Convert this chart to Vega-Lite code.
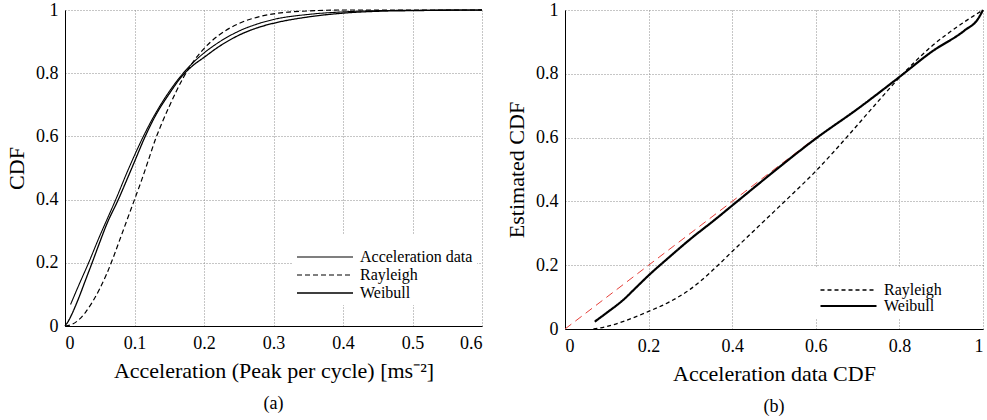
{
  "$schema": "https://vega.github.io/schema/vega-lite/v6.json",
  "padding": {"left": 5, "top": 1, "right": 0, "bottom": 0},
  "spacing": 20,
  "config": {
    "font": "Liberation Serif",
    "view": {"stroke": null},
    "style": {
      "guide-label": {"font": "Liberation Serif", "fill": "#000000"},
      "guide-title": {"font": "Liberation Serif", "fill": "#000000"},
      "group-title": {"font": "Liberation Serif", "fill": "#000000"}
    },
    "axis": {
      "grid": true, "gridColor": "#8c8c8c", "gridDash": [1, 2], "gridWidth": 1,
      "domainColor": "#000000", "domainWidth": 1, "ticks": false,
      "labelFont": "Liberation Serif", "labelFontSize": 18, "labelColor": "#000000",
      "titleFont": "Liberation Serif", "titleFontSize": 22, "titleFontWeight": "normal", "titleColor": "#000000",
      "labelPadding": 7
    },
    "axisX": {"labelPadding": 8, "titlePadding": 8},
    "axisY": {"titlePadding": 7},
    "legend": {"labelFont": "Liberation Serif"},
    "title": {"font": "Liberation Serif", "fontSize": 18, "fontWeight": "normal", "color": "#000000", "orient": "bottom", "frame": "group", "anchor": "middle", "offset": 14}
  },
  "datasets": {
    "left": [
      {"x": 0.008, "F": 0.068, "s": "Acceleration data"},
      {"x": 0.02, "F": 0.13, "s": "Acceleration data"},
      {"x": 0.034, "F": 0.2, "s": "Acceleration data"},
      {"x": 0.05, "F": 0.285, "s": "Acceleration data"},
      {"x": 0.06, "F": 0.335, "s": "Acceleration data"},
      {"x": 0.073, "F": 0.4, "s": "Acceleration data"},
      {"x": 0.09, "F": 0.49, "s": "Acceleration data"},
      {"x": 0.1, "F": 0.54, "s": "Acceleration data"},
      {"x": 0.115, "F": 0.61, "s": "Acceleration data"},
      {"x": 0.13, "F": 0.672, "s": "Acceleration data"},
      {"x": 0.15, "F": 0.742, "s": "Acceleration data"},
      {"x": 0.17, "F": 0.8, "s": "Acceleration data"},
      {"x": 0.185, "F": 0.835, "s": "Acceleration data"},
      {"x": 0.2, "F": 0.864, "s": "Acceleration data"},
      {"x": 0.22, "F": 0.896, "s": "Acceleration data"},
      {"x": 0.25, "F": 0.933, "s": "Acceleration data"},
      {"x": 0.28, "F": 0.958, "s": "Acceleration data"},
      {"x": 0.3, "F": 0.97, "s": "Acceleration data"},
      {"x": 0.35, "F": 0.986, "s": "Acceleration data"},
      {"x": 0.4, "F": 0.994, "s": "Acceleration data"},
      {"x": 0.45, "F": 0.998, "s": "Acceleration data"},
      {"x": 0.5, "F": 0.999, "s": "Acceleration data"},
      {"x": 0.6, "F": 1.0, "s": "Acceleration data"},
      {"x": 0.0, "F": 0.0, "s": "Rayleigh"},
      {"x": 0.01, "F": 0.005, "s": "Rayleigh"},
      {"x": 0.02, "F": 0.02, "s": "Rayleigh"},
      {"x": 0.03, "F": 0.045, "s": "Rayleigh"},
      {"x": 0.04, "F": 0.078, "s": "Rayleigh"},
      {"x": 0.05, "F": 0.118, "s": "Rayleigh"},
      {"x": 0.06, "F": 0.165, "s": "Rayleigh"},
      {"x": 0.07, "F": 0.22, "s": "Rayleigh"},
      {"x": 0.08, "F": 0.28, "s": "Rayleigh"},
      {"x": 0.09, "F": 0.34, "s": "Rayleigh"},
      {"x": 0.1, "F": 0.4, "s": "Rayleigh"},
      {"x": 0.11, "F": 0.46, "s": "Rayleigh"},
      {"x": 0.12, "F": 0.525, "s": "Rayleigh"},
      {"x": 0.13, "F": 0.59, "s": "Rayleigh"},
      {"x": 0.14, "F": 0.645, "s": "Rayleigh"},
      {"x": 0.15, "F": 0.695, "s": "Rayleigh"},
      {"x": 0.16, "F": 0.742, "s": "Rayleigh"},
      {"x": 0.17, "F": 0.785, "s": "Rayleigh"},
      {"x": 0.18, "F": 0.822, "s": "Rayleigh"},
      {"x": 0.2, "F": 0.878, "s": "Rayleigh"},
      {"x": 0.22, "F": 0.918, "s": "Rayleigh"},
      {"x": 0.25, "F": 0.957, "s": "Rayleigh"},
      {"x": 0.28, "F": 0.979, "s": "Rayleigh"},
      {"x": 0.3, "F": 0.988, "s": "Rayleigh"},
      {"x": 0.35, "F": 0.997, "s": "Rayleigh"},
      {"x": 0.4, "F": 1.0, "s": "Rayleigh"},
      {"x": 0.5, "F": 1.0, "s": "Rayleigh"},
      {"x": 0.6, "F": 1.0, "s": "Rayleigh"},
      {"x": 0.0, "F": 0.0, "s": "Weibull"},
      {"x": 0.005, "F": 0.016, "s": "Weibull"},
      {"x": 0.01, "F": 0.038, "s": "Weibull"},
      {"x": 0.02, "F": 0.09, "s": "Weibull"},
      {"x": 0.03, "F": 0.148, "s": "Weibull"},
      {"x": 0.039, "F": 0.2, "s": "Weibull"},
      {"x": 0.05, "F": 0.265, "s": "Weibull"},
      {"x": 0.06, "F": 0.322, "s": "Weibull"},
      {"x": 0.0767, "F": 0.4, "s": "Weibull"},
      {"x": 0.09, "F": 0.468, "s": "Weibull"},
      {"x": 0.1, "F": 0.52, "s": "Weibull"},
      {"x": 0.115, "F": 0.598, "s": "Weibull"},
      {"x": 0.13, "F": 0.665, "s": "Weibull"},
      {"x": 0.15, "F": 0.735, "s": "Weibull"},
      {"x": 0.168, "F": 0.79, "s": "Weibull"},
      {"x": 0.185, "F": 0.826, "s": "Weibull"},
      {"x": 0.2, "F": 0.85, "s": "Weibull"},
      {"x": 0.22, "F": 0.882, "s": "Weibull"},
      {"x": 0.25, "F": 0.92, "s": "Weibull"},
      {"x": 0.28, "F": 0.946, "s": "Weibull"},
      {"x": 0.3, "F": 0.958, "s": "Weibull"},
      {"x": 0.35, "F": 0.978, "s": "Weibull"},
      {"x": 0.4, "F": 0.99, "s": "Weibull"},
      {"x": 0.45, "F": 0.996, "s": "Weibull"},
      {"x": 0.5, "F": 0.998, "s": "Weibull"},
      {"x": 0.6, "F": 1.0, "s": "Weibull"}
    ],
    "right": [
      {"x": 0.068, "y": 0.0, "s": "Rayleigh"},
      {"x": 0.1, "y": 0.008, "s": "Rayleigh"},
      {"x": 0.14, "y": 0.024, "s": "Rayleigh"},
      {"x": 0.2, "y": 0.055, "s": "Rayleigh"},
      {"x": 0.25, "y": 0.085, "s": "Rayleigh"},
      {"x": 0.3, "y": 0.125, "s": "Rayleigh"},
      {"x": 0.35, "y": 0.18, "s": "Rayleigh"},
      {"x": 0.4, "y": 0.243, "s": "Rayleigh"},
      {"x": 0.46, "y": 0.318, "s": "Rayleigh"},
      {"x": 0.5, "y": 0.368, "s": "Rayleigh"},
      {"x": 0.532, "y": 0.408, "s": "Rayleigh"},
      {"x": 0.6, "y": 0.495, "s": "Rayleigh"},
      {"x": 0.68, "y": 0.61, "s": "Rayleigh"},
      {"x": 0.74, "y": 0.7, "s": "Rayleigh"},
      {"x": 0.8, "y": 0.788, "s": "Rayleigh"},
      {"x": 0.876, "y": 0.885, "s": "Rayleigh"},
      {"x": 0.956, "y": 0.963, "s": "Rayleigh"},
      {"x": 1.0, "y": 1.0, "s": "Rayleigh"},
      {"x": 0.071, "y": 0.023, "s": "Weibull"},
      {"x": 0.1, "y": 0.051, "s": "Weibull"},
      {"x": 0.14, "y": 0.092, "s": "Weibull"},
      {"x": 0.17, "y": 0.13, "s": "Weibull"},
      {"x": 0.2, "y": 0.168, "s": "Weibull"},
      {"x": 0.25, "y": 0.226, "s": "Weibull"},
      {"x": 0.3, "y": 0.282, "s": "Weibull"},
      {"x": 0.357, "y": 0.341, "s": "Weibull"},
      {"x": 0.412, "y": 0.4, "s": "Weibull"},
      {"x": 0.5, "y": 0.494, "s": "Weibull"},
      {"x": 0.6, "y": 0.597, "s": "Weibull"},
      {"x": 0.7, "y": 0.69, "s": "Weibull"},
      {"x": 0.8, "y": 0.79, "s": "Weibull"},
      {"x": 0.876, "y": 0.868, "s": "Weibull"},
      {"x": 0.956, "y": 0.936, "s": "Weibull"},
      {"x": 0.988, "y": 0.972, "s": "Weibull"},
      {"x": 1.0, "y": 1.0, "s": "Weibull"}
    ],
    "ref": [
      {"x": 0.0, "y": 0.0},
      {"x": 0.6, "y": 0.6}
    ]
  },
  "hconcat": [
    {
      "width": 417,
      "height": 316,
      "title": {"text": "(a)"},
      "data": {"name": "left"},
      "mark": {"type": "line", "color": "#000000", "interpolate": "monotone"},
      "encoding": {
        "x": {"field": "x", "type": "quantitative", "title": "Acceleration (Peak per cycle) [ms⁻²]",
              "scale": {"domain": [0, 0.6], "nice": false},
              "axis": {"values": [0, 0.1, 0.2, 0.3, 0.4, 0.5, 0.6], "format": "~g", "labelFont": "Liberation Serif", "titleFont": "Liberation Serif"}},
        "y": {"field": "F", "type": "quantitative", "title": "CDF",
              "scale": {"domain": [0, 1], "nice": false},
              "axis": {"values": [0, 0.2, 0.4, 0.6, 0.8, 1], "format": "~g", "labelFont": "Liberation Serif", "titleFont": "Liberation Serif"}},
        "strokeDash": {"field": "s", "type": "nominal",
              "scale": {"domain": ["Acceleration data", "Rayleigh", "Weibull"], "range": [[1, 0], [5, 3], [1, 0]]},
              "legend": {"orient": "none", "legendX": 227, "legendY": 224, "title": " ", "titleFontSize": 10, "titlePadding": 1,
                         "fillColor": "#ffffff", "padding": 4, "symbolType": "stroke", "symbolSize": 3136, "symbolStrokeColor": "#000000",
                         "clipHeight": 16, "rowPadding": 2, "labelOffset": 6, "labelFont": "Liberation Serif", "labelFontSize": 16, "labelColor": "#000000", "labelLimit": 300}},
        "strokeWidth": {"field": "s", "type": "nominal",
              "scale": {"domain": ["Acceleration data", "Rayleigh", "Weibull"], "range": [1.1, 1.3, 2.5]},
              "legend": {"orient": "none", "legendX": 227, "legendY": 224, "title": " ", "titleFontSize": 10, "titlePadding": 1,
                         "fillColor": "#ffffff", "padding": 4, "symbolType": "stroke", "symbolSize": 3136, "symbolStrokeColor": "#000000",
                         "clipHeight": 16, "rowPadding": 2, "labelOffset": 6, "labelFont": "Liberation Serif", "labelFontSize": 16, "labelColor": "#000000", "labelLimit": 300}}
      }
    },
    {
      "width": 418,
      "height": 319,
      "title": {"text": "(b)"},
      "layer": [
        {
          "data": {"name": "ref"},
          "mark": {"type": "line", "color": "#e5403a", "strokeDash": [8, 5], "strokeWidth": 1},
          "encoding": {
            "x": {"field": "x", "type": "quantitative"},
            "y": {"field": "y", "type": "quantitative"}
          }
        },
        {
          "data": {"name": "right"},
          "mark": {"type": "line", "color": "#000000", "interpolate": "monotone"},
          "encoding": {
            "x": {"field": "x", "type": "quantitative", "title": "Acceleration data CDF",
                  "scale": {"domain": [0, 1], "nice": false},
                  "axis": {"values": [0, 0.2, 0.4, 0.6, 0.8, 1], "format": "~g", "labelFont": "Liberation Serif", "titleFont": "Liberation Serif"}},
            "y": {"field": "y", "type": "quantitative", "title": "Estimated CDF",
                  "scale": {"domain": [0, 1], "nice": false},
                  "axis": {"values": [0, 0.2, 0.4, 0.6, 0.8, 1], "format": "~g", "labelFont": "Liberation Serif", "titleFont": "Liberation Serif"}},
            "strokeDash": {"field": "s", "type": "nominal",
                  "scale": {"domain": ["Rayleigh", "Weibull"], "range": [[4, 3], [1, 0]]},
                  "legend": {"orient": "none", "legendX": 250, "legendY": 257, "title": " ", "titleFontSize": 10, "titlePadding": 1,
                             "fillColor": "#ffffff", "padding": 4, "symbolType": "stroke", "symbolSize": 3136, "symbolStrokeColor": "#000000",
                             "clipHeight": 16, "rowPadding": 0, "labelOffset": 6, "labelFont": "Liberation Serif", "labelFontSize": 16, "labelColor": "#000000", "labelLimit": 300}},
            "strokeWidth": {"field": "s", "type": "nominal",
                  "scale": {"domain": ["Rayleigh", "Weibull"], "range": [1.3, 2.2]},
                  "legend": {"orient": "none", "legendX": 250, "legendY": 257, "title": " ", "titleFontSize": 10, "titlePadding": 1,
                             "fillColor": "#ffffff", "padding": 4, "symbolType": "stroke", "symbolSize": 3136, "symbolStrokeColor": "#000000",
                             "clipHeight": 16, "rowPadding": 0, "labelOffset": 6, "labelFont": "Liberation Serif", "labelFontSize": 16, "labelColor": "#000000", "labelLimit": 300}}
          }
        }
      ],
      "resolve": {"scale": {"strokeDash": "independent", "strokeWidth": "independent"}}
    }
  ],
  "resolve": {"scale": {"strokeDash": "independent", "strokeWidth": "independent"}, "legend": {"strokeDash": "independent", "strokeWidth": "independent"}}
}
